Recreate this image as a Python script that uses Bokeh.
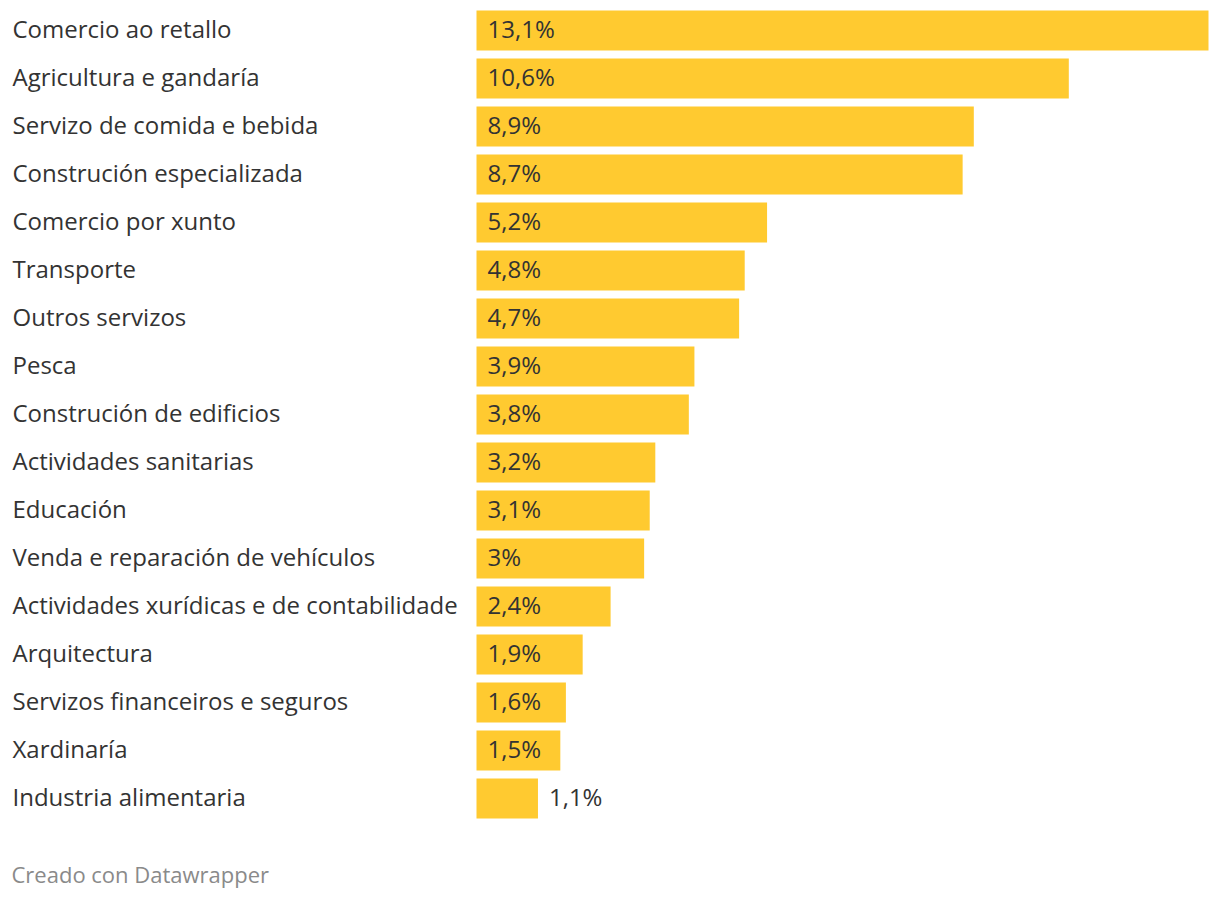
from bokeh.plotting import figure
from bokeh.models import Range1d, ColumnDataSource, Label
from bokeh.core.properties import value
from bokeh.embed import file_html
from bokeh.resources import INLINE

categories = [
    "Comercio ao retallo",
    "Agricultura e gandaría",
    "Servizo de comida e bebida",
    "Construción especializada",
    "Comercio por xunto",
    "Transporte",
    "Outros servizos",
    "Pesca",
    "Construción de edificios",
    "Actividades sanitarias",
    "Educación",
    "Venda e reparación de vehículos",
    "Actividades xurídicas e de contabilidade",
    "Arquitectura",
    "Servizos financeiros e seguros",
    "Xardinaría",
    "Industria alimentaria",
]
values = [13.1, 10.6, 8.9, 8.7, 5.2, 4.8, 4.7, 3.9, 3.8, 3.2, 3.1, 3.0, 2.4, 1.9, 1.6, 1.5, 1.1]
labels = ["13,1%", "10,6%", "8,9%", "8,7%", "5,2%", "4,8%", "4,7%", "3,9%", "3,8%",
          "3,2%", "3,1%", "3%", "2,4%", "1,9%", "1,6%", "1,5%", "1,1%"]

W, H = 1216, 892
bar_left_px = 476
bar_max_px = 732
row_px = 48
first_center_px = 30
scale = bar_max_px / max(values)

x0 = -bar_left_px / scale
x1 = (W - bar_left_px) / scale
y_top = -first_center_px / row_px
y_bot = (H - first_center_px) / row_px

p = figure(width=W, height=H, output_backend="svg", toolbar_location=None,
           x_range=Range1d(x0, x1), y_range=Range1d(y_bot, y_top),
           min_border=0, min_border_left=0, min_border_right=0,
           min_border_top=0, min_border_bottom=0)
p.axis.visible = False
p.grid.visible = False
p.outline_line_color = None
p.background_fill_color = "white"
p.border_fill_color = "white"

idx = list(range(len(categories)))
inside = [v * scale > 75 for v in values]
src = ColumnDataSource(dict(y=idx, v=values, cat=categories, lab=labels,
                            lx=[0 if ins else v for ins, v in zip(inside, values)],
                            lo=[11 if ins else 11 for ins in inside]))

p.hbar(y="y", left=0, right="v", height=40 / row_px, source=src,
       fill_color="#FFCA30", line_color=None)

font = value("Open Sans")
p.text(x=0, y="y", text="cat", source=src, x_offset=-464, y_offset=-2,
       text_font=font, text_font_size="24px", text_color="#333333",
       text_baseline="middle", text_align="left")
p.text(x="lx", y="y", text="lab", source=src, x_offset="lo", y_offset=-2,
       text_font=font, text_font_size="24px", text_color="#333333",
       text_baseline="middle", text_align="left")

footer = Label(x=11, y=H - 873, x_units="screen", y_units="screen",
               text="Creado con Datawrapper", text_font="Open Sans",
               text_font_size="22px", text_color="#8a8a8a", text_baseline="middle")
p.add_layout(footer)

open("out.html", "w").write(file_html(p, INLINE))
